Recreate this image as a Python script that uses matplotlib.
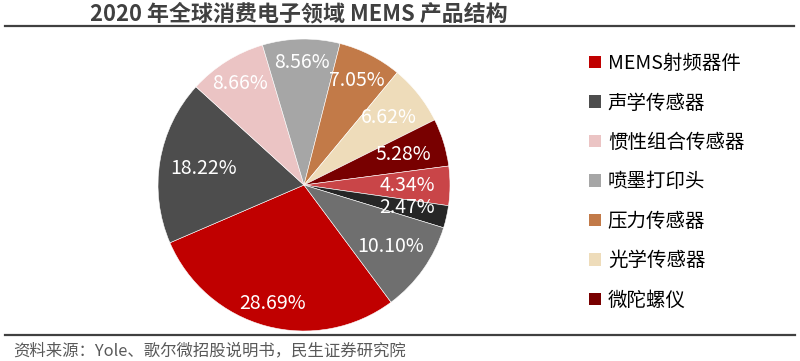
import matplotlib
matplotlib.use('Agg')
from matplotlib import pyplot as plt
from matplotlib.patches import Patch
from matplotlib.lines import Line2D
import numpy as np

plt.rcParams['font.family'] = ['Noto Sans CJK SC', 'DejaVu Sans']

title = '2020 年全球消费电子领域 MEMS 产品结构'
source = '资料来源：Yole、歌尔微招股说明书，民生证券研究院'

# slice shares (%), clockwise from the MEMS RF slice
shares = [28.69, 18.22, 8.66, 8.56, 7.05, 6.62, 5.28, 4.34, 2.47, 10.10]
slice_colors = ['#C00000', '#4D4D4D', '#EBC4C4', '#A6A6A6', '#C27A48',
                '#EEDCBA', '#780000', '#C94548', '#262626', '#6F6F6F']
# only the first seven slices are named in the legend
legend_names = ['MEMS射频器件', '声学传感器', '惯性组合传感器', '喷墨打印头',
                '压力传感器', '光学传感器', '微陀螺仪']
# how far out each percentage label sits (fraction of radius)
label_radius = [0.84, 0.70, 0.82, 0.84, 0.80, 0.74, 0.71, 0.71, 0.72, 0.73]

fig = plt.figure(figsize=(8, 3.61), dpi=100)
ax = fig.add_axes([0.1975, 0.083, 0.365, 0.809])
wedges, _ = ax.pie(shares, colors=slice_colors, startangle=-53.4, counterclock=False,
                   wedgeprops={'edgecolor': 'white', 'linewidth': 0.4})
ax.set_xlim(-1, 1)
ax.set_ylim(-1, 1)
ax.set_aspect('equal')
ax.axis('off')

for w, v, r in zip(wedges, shares, label_radius):
    mid = np.deg2rad((w.theta1 + w.theta2) / 2)
    ax.text(r * np.cos(mid), r * np.sin(mid), f'{v:.2f}%', color='white',
            fontsize=14, ha='center', va='center')

handles = [Patch(facecolor=c, edgecolor='none') for c in slice_colors[:len(legend_names)]]
fig.legend(handles, legend_names, loc='upper left', bbox_to_anchor=(0.724, 0.88),
           frameon=False, fontsize=14, handlelength=0.62, handleheight=0.62,
           handletextpad=0.35, labelspacing=0.95, borderpad=0)

fig.text(0.374, 0.962, title, ha='center', va='center', fontsize=15.8,
         fontweight='bold', color='#404040')
fig.add_artist(Line2D([0.006, 0.992], [0.928, 0.928], color='#404040', linewidth=1.6))
fig.add_artist(Line2D([0.006, 0.994], [0.072, 0.072], color='#404040', linewidth=1.6))
fig.text(0.017, 0.028, source, ha='left', va='center', fontsize=11.8, color='#595959')

fig.savefig('out.png', dpi=100)
